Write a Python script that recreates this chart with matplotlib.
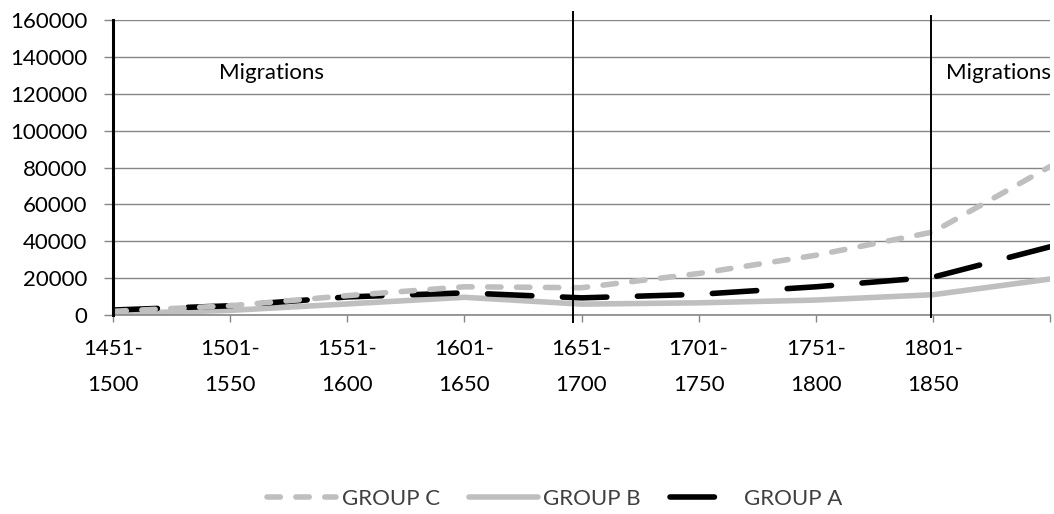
import matplotlib.pyplot as plt

plt.rcParams['font.family'] = ['Lato', 'DejaVu Sans']

# Periods (last one has no label on the axis)
periods = ['1451-\n1500', '1501-\n1550', '1551-\n1600', '1601-\n1650', '1651-\n1700',
           '1701-\n1750', '1751-\n1800', '1801-\n1850', '']

# Values
group_a = [2700, 5000, 9800, 12000, 9300, 11200, 15300, 20500, 37000]
group_b = [700, 2500, 6000, 9600, 5900, 6600, 8100, 11000, 19500]
group_c = [2000, 5000, 10500, 15300, 14800, 22500, 32400, 45000, 80500]

yticks = [0, 20000, 40000, 60000, 80000, 100000, 120000, 140000, 160000]

fig = plt.figure(figsize=(10.54, 5.14), dpi=100)
ax = fig.add_axes([113 / 1054, 199 / 514, 937 / 1054, 295 / 514])

x = list(range(len(periods)))
grey = '#bfbfbf'
lw = 4.0

# Series
la, = ax.plot(x, group_a, color='black', lw=lw, dashes=(8, 5.5),
              dash_capstyle='round', zorder=3)
lb, = ax.plot(x, group_b, color=grey, lw=lw, solid_capstyle='round', zorder=2)
lc, = ax.plot(x, group_c, color=grey, lw=lw, dashes=(2.4, 2.8),
              dash_capstyle='round', zorder=4)

# Vertical divider lines
ax.plot([0, 0], [0, 160000], color='black', lw=2.2, zorder=5, clip_on=False)
ax.plot([3.93, 3.93], [164300, -3800], color='black', lw=1.4, zorder=5, clip_on=False)
ax.plot([6.985, 6.985], [162000, -1000], color='black', lw=1.4, zorder=5, clip_on=False)

# Labels
ax.text(1.35, 128000, 'Migrations', ha='center', va='baseline', fontsize=16)
ax.text(7.56, 128000, 'Migrations', ha='center', va='baseline', fontsize=16)

# Axes styling
ax.set_xlim(0, 8)
ax.set_ylim(0, 160000)
ax.set_xticks(x)
ax.set_xticklabels(periods, fontsize=16, linespacing=2.0)
ax.set_yticks(yticks)
ax.set_yticklabels([str(v) for v in yticks], fontsize=16)

for s in ['top', 'right', 'left']:
    ax.spines[s].set_visible(False)
ax.spines['bottom'].set_color('#868686')
ax.spines['bottom'].set_linewidth(1.2)

ax.yaxis.grid(True, color='#868686', lw=1.0)
ax.set_axisbelow(True)
ax.tick_params(axis='y', length=6.5, width=1.0, color='#868686', pad=12)
ax.tick_params(axis='x', length=5, width=1.0, color='#868686', pad=12)

# Legend
leg = fig.legend([lc, lb, la], ['GROUP C', 'GROUP B', 'GROUP A'], loc='center',
                 bbox_to_anchor=(555 / 1054, 15 / 514), ncol=3, frameon=False,
                 fontsize=16, handlelength=3.1, handletextpad=0.25, columnspacing=1.3)
for t in leg.get_texts():
    t.set_color('#404040')

fig.savefig('out.png', dpi=100)
